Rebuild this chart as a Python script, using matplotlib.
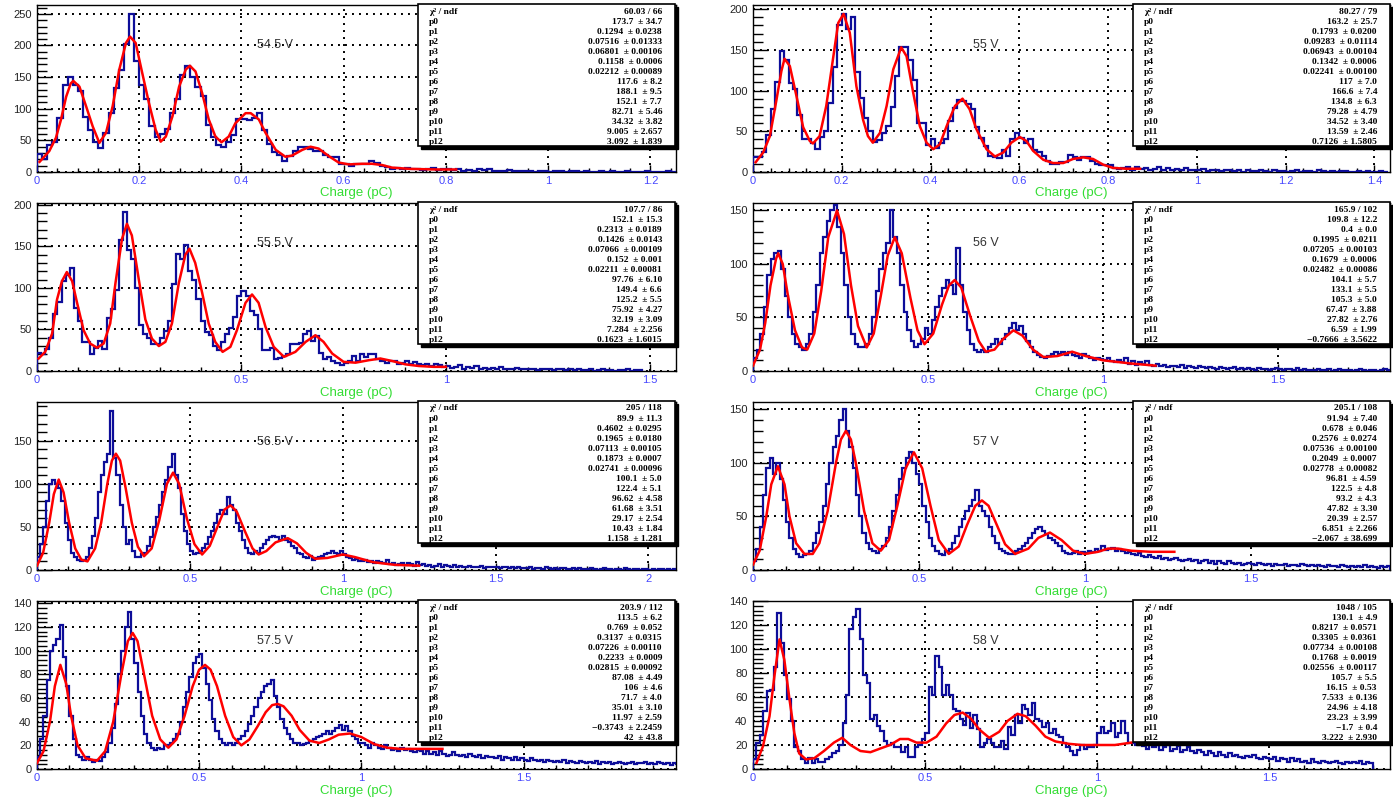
import numpy as np
import matplotlib.pyplot as plt
from matplotlib.ticker import MultipleLocator, AutoMinorLocator, FuncFormatter
from matplotlib.patches import Rectangle

W, H = 1393, 802
bin_w = 0.01

# ---------------- data ----------------
labels = ["54.5 V", "55 V", "55.5 V", "56 V", "56.5 V", "57 V", "57.5 V", "58 V"]

counts_545 = [28, 20, 42, 48, 85, 137, 150, 138, 128, 87, 67, 47, 38, 62, 93, 133, 162, 203, 250, 176,
              138, 115, 72, 55, 60, 68, 93, 115, 153, 167, 150, 135, 120, 75, 55, 43, 40, 47, 58, 84,
              84, 82, 85, 93, 67, 45, 32, 27, 18, 25, 33, 40, 40, 37, 33, 33, 27, 23, 23, 12,
              13, 10, 12, 12, 12, 18, 14, 10, 8, 5, 6, 5, 7, 4, 5, 3, 4, 6, 3, 4,
              5, 3, 4, 2, 3, 2, 4, 3, 5, 2, 1, 2, 3, 1, 1, 2, 1, 0, 1, 1,
              0, 2, 1, 0, 1, 1, 0, 1, 0, 0, 1, 0, 1, 0, 0, 1, 0, 0, 0, 1, 0, 0, 0, 1, 0]
fit_x_545 = [0.005, 0.024, 0.037, 0.047, 0.057, 0.066, 0.071, 0.083, 0.096, 0.109, 0.122, 0.135, 0.148,
             0.161, 0.174, 0.182, 0.193, 0.206, 0.219, 0.232, 0.242, 0.252, 0.265, 0.278, 0.291, 0.299,
             0.310, 0.323, 0.336, 0.349, 0.361, 0.375, 0.388, 0.408, 0.418, 0.434, 0.447, 0.467, 0.486,
             0.499, 0.519, 0.535, 0.551, 0.571, 0.590, 0.610, 0.636, 0.655, 0.675, 0.694, 0.727, 0.78, 0.82]
fit_y_545 = [16, 33, 54, 83, 119, 140, 144, 135, 104, 72, 46, 62, 104, 162, 204, 214, 204, 156, 109, 67,
             48, 56, 88, 135, 162, 168, 159, 125, 83, 56, 47, 56, 77, 93, 93, 83, 62, 35, 24, 26, 35,
             40, 37, 25, 15, 12, 13, 13, 11, 7, 5, 4, 4]

counts_55 = [18, 18, 25, 45, 77, 111, 149, 138, 109, 102, 70, 40, 40, 36, 28, 43, 50, 85, 129, 181,
             194, 176, 190, 123, 91, 66, 50, 37, 39, 48, 56, 80, 118, 154, 154, 137, 113, 60, 60, 33,
             41, 30, 35, 41, 62, 79, 88, 87, 83, 77, 55, 42, 32, 20, 18, 17, 27, 20, 40, 48,
             42, 35, 40, 27, 25, 20, 13, 10, 10, 12, 12, 21, 18, 15, 18, 18, 13, 10, 9, 8,
             8, 5, 4, 5, 6, 3, 6, 4, 5, 3, 4, 6, 3, 5, 2, 4, 3, 5, 2, 3,
             2, 4, 1, 3, 2, 1, 3, 2, 1, 2, 0, 2, 1, 1, 3, 1, 0, 2, 1, 1,
             0, 1, 2, 0, 1, 1, 0, 2, 1, 0, 1, 0, 1, 1, 0, 0, 1, 0, 1, 0, 0, 1, 0]
fit_x_55 = [0.006, 0.023, 0.038, 0.053, 0.064, 0.071, 0.083, 0.098, 0.113, 0.128, 0.135, 0.150, 0.165,
            0.180, 0.192, 0.204, 0.218, 0.233, 0.248, 0.259, 0.270, 0.286, 0.301, 0.316, 0.334, 0.346,
            0.361, 0.376, 0.391, 0.406, 0.421, 0.436, 0.455, 0.472, 0.488, 0.503, 0.526, 0.545, 0.564,
            0.582, 0.601, 0.616, 0.631, 0.654, 0.676, 0.699, 0.721, 0.744, 0.766, 0.789, 0.811, 0.841, 0.872]
fit_y_55 = [12, 24, 44, 89, 124, 139, 130, 93, 55, 38, 35, 44, 81, 138, 183, 194, 171, 105, 64, 44, 36,
            48, 81, 126, 153, 142, 97, 56, 36, 28, 34, 56, 81, 90, 77, 53, 28, 19, 24, 36, 43, 38, 26,
            15, 11, 11, 16, 18, 16, 9, 5, 4, 4]

counts_555 = [22, 20, 27, 40, 68, 83, 108, 115, 124, 76, 60, 35, 35, 20, 28, 36, 27, 64, 75, 97,
              158, 191, 145, 135, 100, 55, 45, 40, 32, 33, 40, 48, 60, 105, 141, 135, 151, 120, 110, 87,
              60, 47, 43, 30, 25, 35, 45, 52, 65, 90, 96, 90, 72, 67, 50, 25, 25, 28, 15, 16,
              18, 21, 32, 33, 34, 45, 48, 36, 42, 22, 15, 17, 12, 10, 7, 10, 12, 18, 12, 20,
              17, 20, 20, 15, 12, 10, 12, 12, 8, 10, 12, 9, 11, 8, 7, 9, 6, 8, 7, 5,
              6, 4, 5, 7, 3, 5, 4, 6, 3, 4, 2, 4, 3, 5, 2, 3, 2, 4, 3, 2,
              3, 2, 1, 3, 2, 2, 1, 2, 3, 1, 2, 1, 2, 1, 1, 2, 0, 1, 2, 1,
              1, 0, 1, 1, 2, 0, 1, 1]
fit_x_555 = [0.004, 0.020, 0.037, 0.049, 0.061, 0.073, 0.086, 0.098, 0.114, 0.130, 0.147, 0.163, 0.179,
             0.192, 0.208, 0.220, 0.232, 0.249, 0.265, 0.281, 0.298, 0.314, 0.330, 0.347, 0.363, 0.373,
             0.387, 0.404, 0.420, 0.436, 0.454, 0.473, 0.489, 0.510, 0.526, 0.542, 0.559, 0.579, 0.604,
             0.632, 0.657, 0.681, 0.701, 0.722, 0.750, 0.779, 0.812, 0.840, 0.869, 0.901, 0.934, 0.97, 1.0]
fit_y_555 = [15, 23, 45, 86, 108, 119, 108, 82, 49, 33, 28, 33, 57, 106, 159, 177, 163, 110, 62, 39, 30,
             35, 57, 106, 140, 147, 130, 94, 57, 35, 23, 29, 49, 82, 92, 82, 53, 29, 17, 23, 35, 43, 35,
             21, 11, 10, 13, 15, 12, 8, 6, 5, 5]

counts_56 = [12, 20, 35, 60, 90, 105, 110, 112, 95, 70, 50, 35, 25, 22, 20, 25, 35, 55, 80, 110,
             125, 140, 150, 155, 135, 110, 80, 50, 35, 25, 22, 22, 25, 35, 50, 75, 95, 110, 120, 150,
             125, 110, 80, 55, 38, 28, 22, 25, 30, 40, 35, 48, 60, 70, 78, 85, 80, 72, 115, 80,
             55, 38, 25, 20, 18, 20, 18, 22, 25, 30, 25, 30, 35, 40, 45, 38, 42, 35, 28, 22,
             18, 15, 13, 12, 14, 16, 18, 16, 18, 15, 18, 15, 14, 12, 16, 14, 12, 10, 12, 11,
             10, 12, 9, 8, 10, 8, 12, 7, 9, 6, 8, 7, 9, 6, 5, 7, 5, 6, 4, 5,
             5, 4, 6, 3, 5, 4, 3, 5, 4, 3, 4, 3, 2, 4, 3, 2, 3, 4, 2, 3,
             2, 3, 2, 1, 3, 2, 2, 1, 2, 3, 2, 1, 2, 2, 1, 3, 1, 2, 1, 1,
             1, 2, 1, 1, 2, 0, 1, 2, 1, 1, 1, 0, 1, 2, 1, 0, 1, 1, 0, 1, 2, 1]
fit_x_56 = [0.0, 0.02, 0.035, 0.05, 0.066, 0.072, 0.085, 0.1, 0.12, 0.14, 0.155, 0.175, 0.195, 0.215,
            0.24, 0.26, 0.28, 0.30, 0.325, 0.345, 0.365, 0.385, 0.405, 0.425, 0.45, 0.47, 0.49, 0.515,
            0.54, 0.56, 0.576, 0.595, 0.62, 0.645, 0.665, 0.69, 0.715, 0.744, 0.77, 0.8, 0.83, 0.87,
            0.912, 0.95, 1.0, 1.08, 1.15]
fit_y_56 = [5, 20, 45, 80, 105, 110, 100, 70, 38, 22, 20, 35, 75, 125, 150, 128, 80, 42, 22, 35, 70,
            108, 125, 110, 68, 38, 25, 35, 62, 80, 85, 78, 52, 28, 18, 20, 30, 38, 33, 20, 13, 14,
            18, 14, 10, 7, 5]

counts_565 = [15, 30, 50, 80, 100, 105, 100, 95, 80, 55, 35, 20, 15, 12, 10, 12, 15, 25, 40, 60,
              90, 110, 125, 135, 185, 130, 110, 75, 50, 30, 35, 22, 15, 15, 18, 20, 28, 38, 50, 62,
              75, 90, 105, 120, 135, 110, 95, 65, 45, 30, 22, 18, 20, 22, 25, 30, 38, 45, 55, 65,
              70, 65, 85, 75, 70, 55, 45, 35, 25, 20, 18, 22, 20, 25, 30, 35, 38, 40, 38, 35,
              40, 35, 32, 28, 25, 20, 18, 15, 14, 16, 12, 14, 15, 16, 18, 20, 22, 20, 18, 22,
              18, 15, 14, 12, 13, 11, 10, 12, 9, 10, 8, 10, 9, 8, 12, 7, 8, 6, 7, 8,
              6, 8, 7, 5, 9, 6, 7, 5, 6, 4, 5, 7, 4, 6, 5, 3, 6, 4, 5, 3,
              4, 5, 3, 4, 3, 5, 2, 4, 3, 3, 3, 2, 4, 3, 2, 3, 2, 3, 2, 2,
              2, 3, 1, 2, 2, 1, 3, 2, 1, 2, 1, 2, 2, 1, 1, 2, 1, 2, 1, 1,
              1, 2, 1, 0, 1, 2, 1, 1, 0, 1, 1, 0, 2, 1, 0, 1, 1, 0, 1, 1, 0, 1, 0, 1, 1, 0, 1, 0, 1]
fit_x_565 = [0.0, 0.02, 0.04, 0.055, 0.071, 0.087, 0.105, 0.125, 0.145, 0.165, 0.19, 0.21, 0.23, 0.245,
             0.258, 0.272, 0.29, 0.31, 0.33, 0.35, 0.375, 0.4, 0.425, 0.445, 0.465, 0.49, 0.515, 0.54,
             0.565, 0.59, 0.613, 0.633, 0.653, 0.68, 0.705, 0.725, 0.75, 0.78, 0.82, 0.85, 0.88, 0.91,
             0.95, 1.0, 1.04, 1.1, 1.17, 1.25]
fit_y_565 = [5, 20, 55, 88, 105, 90, 55, 25, 12, 10, 25, 55, 100, 127, 135, 127, 95, 55, 27, 16, 25,
             58, 100, 113, 100, 60, 30, 18, 28, 50, 70, 75, 68, 45, 25, 18, 22, 32, 37, 31, 20, 13,
             14, 18, 15, 9, 6, 5]

counts_57 = [8, 20, 40, 70, 95, 105, 90, 100, 85, 65, 45, 30, 20, 15, 12, 14, 15, 18, 25, 35,
             45, 60, 80, 100, 115, 125, 140, 150, 130, 115, 95, 70, 50, 35, 25, 20, 18, 16, 20, 22,
             30, 40, 55, 70, 85, 95, 105, 110, 100, 90, 80, 60, 45, 30, 22, 18, 15, 14, 18, 20,
             25, 32, 40, 48, 55, 60, 65, 75, 60, 55, 50, 40, 32, 25, 20, 18, 16, 15, 15, 18,
             20, 22, 25, 30, 35, 38, 40, 36, 34, 30, 28, 25, 22, 18, 16, 15, 16, 18, 15, 17,
             16, 18, 17, 20, 18, 22, 19, 20, 21, 18, 20, 18, 16, 17, 15, 14, 16, 13, 12, 14,
             12, 11, 13, 10, 11, 9, 10, 11, 9, 8, 9, 10, 8, 9, 7, 8, 9, 7, 8, 6,
             8, 7, 6, 8, 7, 6, 7, 5, 6, 7, 6, 5, 7, 6, 5, 6, 4, 6, 5, 5,
             6, 4, 5, 5, 4, 6, 5, 4, 5, 4, 5, 4, 3, 5, 4, 4, 3, 5, 4, 3,
             4, 3, 4, 3, 5, 3, 4, 3, 2, 4, 3, 4]
fit_x_57 = [0.0, 0.02, 0.04, 0.055, 0.075, 0.095, 0.11, 0.13, 0.155, 0.18, 0.2, 0.225, 0.25, 0.265,
            0.28, 0.295, 0.31, 0.335, 0.36, 0.385, 0.41, 0.435, 0.46, 0.485, 0.51, 0.535, 0.56, 0.59,
            0.62, 0.645, 0.67, 0.69, 0.71, 0.735, 0.76, 0.79, 0.83, 0.86, 0.895, 0.93, 0.965, 1.0,
            1.04, 1.07, 1.1, 1.14, 1.2, 1.27]
fit_y_57 = [5, 18, 50, 80, 97, 80, 50, 25, 15, 15, 25, 55, 100, 122, 130, 122, 100, 55, 25, 18, 28,
            60, 95, 110, 95, 60, 28, 15, 22, 42, 60, 65, 60, 42, 24, 15, 20, 30, 35, 28, 18, 15,
            17, 20, 20, 18, 17, 17]

counts_575 = [10, 25, 45, 75, 100, 105, 110, 122, 95, 70, 45, 25, 12, 10, 8, 10, 8, 6, 8, 7,
              10, 14, 22, 35, 55, 80, 100, 120, 133, 110, 90, 65, 45, 30, 22, 18, 16, 18, 17, 20,
              20, 22, 25, 30, 40, 52, 65, 78, 90, 95, 97, 85, 72, 58, 42, 32, 25, 22, 20, 22,
              20, 22, 25, 28, 32, 38, 45, 52, 60, 65, 70, 72, 75, 62, 52, 42, 35, 30, 25, 22,
              22, 20, 21, 22, 24, 25, 27, 28, 30, 32, 30, 32, 35, 37, 33, 36, 32, 28, 25, 22,
              22, 20, 18, 22, 20, 18, 17, 20, 18, 16, 17, 15, 18, 16, 17, 15, 14, 16, 15, 13,
              15, 13, 14, 12, 15, 13, 11, 12, 14, 12, 11, 12, 10, 13, 11, 10, 12, 9, 11, 10,
              10, 9, 11, 8, 10, 9, 8, 10, 8, 9, 8, 7, 9, 8, 7, 8, 6, 8, 7, 6,
              7, 6, 8, 5, 7, 6, 5, 7, 6, 5, 6, 5, 7, 4, 6, 5, 6, 4, 5, 6,
              5, 4, 5, 6, 4, 5, 5, 6, 4, 5, 4, 6, 5, 4, 5, 3, 5, 4]
fit_x_575 = [0.0, 0.02, 0.04, 0.055, 0.072, 0.09, 0.105, 0.125, 0.15, 0.185, 0.21, 0.235, 0.26, 0.28,
             0.295, 0.31, 0.33, 0.355, 0.38, 0.405, 0.43, 0.455, 0.48, 0.5, 0.518, 0.535, 0.555, 0.58,
             0.605, 0.63, 0.655, 0.68, 0.705, 0.725, 0.742, 0.76, 0.785, 0.81, 0.84, 0.87, 0.9, 0.93,
             0.965, 1.0, 1.04, 1.08, 1.12, 1.18, 1.25]
fit_y_575 = [5, 15, 40, 70, 88, 72, 45, 20, 9, 7, 15, 40, 80, 108, 115, 108, 80, 45, 25, 18, 25, 45,
             70, 84, 88, 84, 70, 45, 27, 20, 25, 36, 48, 54, 55, 53, 45, 33, 24, 22, 25, 29, 30, 27,
             21, 18, 17, 17, 17]

counts_58 = [8, 22, 28, 48, 65, 66, 85, 130, 105, 78, 58, 40, 18, 15, 8, 5, 9, 5, 8, 6,
             6, 8, 10, 13, 15, 20, 38, 62, 117, 127, 133, 108, 78, 72, 42, 45, 36, 32, 23, 20,
             22, 18, 18, 14, 18, 10, 10, 18, 20, 25, 30, 68, 62, 94, 85, 62, 70, 62, 50, 48,
             42, 37, 47, 34, 45, 33, 18, 22, 25, 22, 18, 18, 23, 17, 35, 28, 45, 38, 53, 50,
             45, 55, 42, 40, 35, 38, 30, 33, 28, 27, 22, 18, 15, 12, 16, 20, 17, 18, 18, 20,
             30, 35, 30, 32, 38, 27, 30, 40, 30, 22, 22, 20, 24, 19, 17, 21, 18, 20, 16, 18,
             20, 15, 17, 19, 14, 16, 18, 15, 13, 16, 14, 12, 15, 13, 11, 14, 12, 10, 13, 11,
             12, 10, 9, 11, 10, 12, 9, 8, 10, 9, 8, 10, 7, 9, 8, 6, 9, 7, 8, 6,
             7, 5, 8, 6, 5, 7, 6, 5, 6, 7, 5, 4, 6, 5, 6, 5, 7, 4, 6, 5]
fit_x_58 = [0.01, 0.029, 0.048, 0.062, 0.077, 0.091, 0.106, 0.120, 0.134, 0.154, 0.178, 0.206, 0.235,
            0.259, 0.283, 0.312, 0.341, 0.369, 0.398, 0.427, 0.451, 0.475, 0.504, 0.533, 0.561, 0.585,
            0.609, 0.633, 0.657, 0.686, 0.715, 0.739, 0.768, 0.792, 0.821, 0.849, 0.878, 0.917, 0.955,
            1.003, 1.051, 1.099]
fit_y_58 = [5, 19, 44, 77, 108, 91, 58, 30, 13, 8, 9, 15, 22, 26, 20, 15, 14, 17, 20, 25, 25, 22, 22,
            27, 38, 45, 47, 42, 33, 26, 31, 40, 46, 44, 36, 27, 23, 21, 20, 20, 20, 22]

chi2 = ["60.03 / 66", "80.27 / 79", "107.7 / 86", "165.9 / 102",
        "205 / 118", "205.1 / 108", "203.9 / 112", "1048 / 105"]
pars_545 = ["173.7  ± 34.7", "0.1294  ± 0.0238", "0.07516  ± 0.01333", "0.06801  ± 0.00106",
            "0.1158  ± 0.0006", "0.02212  ± 0.00089", "117.6  ± 8.2", "188.1  ± 9.5", "152.1  ± 7.7",
            "82.71  ± 5.46", "34.32  ± 3.82", "9.005  ± 2.657", "3.092  ± 1.839"]
pars_55 = ["163.2  ± 25.7", "0.1793  ± 0.0200", "0.09283  ± 0.01114", "0.06943  ± 0.00104",
           "0.1342  ± 0.0006", "0.02241  ± 0.00100", "117  ± 7.0", "166.6  ± 7.4", "134.8  ± 6.3",
           "79.28  ± 4.79", "34.52  ± 3.40", "13.59  ± 2.46", "0.7126  ± 1.5805"]
pars_555 = ["152.1  ± 15.3", "0.2313  ± 0.0189", "0.1426  ± 0.0143", "0.07066  ± 0.00109",
            "0.152  ± 0.001", "0.02211  ± 0.00081", "97.76  ± 6.10", "149.4  ± 6.6", "125.2  ± 5.5",
            "75.92  ± 4.27", "32.19  ± 3.09", "7.284  ± 2.256", "0.1623  ± 1.6015"]
pars_56 = ["109.8  ± 12.2", "0.4  ± 0.0", "0.1995  ± 0.0211", "0.07205  ± 0.00103",
           "0.1679  ± 0.0006", "0.02482  ± 0.00086", "104.1  ± 5.7", "133.1  ± 5.5", "105.3  ± 5.0",
           "67.47  ± 3.88", "27.82  ± 2.76", "6.59  ± 1.99", "\u22120.7666  ± 3.5622"]
pars_565 = ["89.9  ± 11.3", "0.4602  ± 0.0295", "0.1965  ± 0.0180", "0.07113  ± 0.00105",
            "0.1873  ± 0.0007", "0.02741  ± 0.00096", "100.1  ± 5.0", "122.4  ± 5.1", "96.62  ± 4.58",
            "61.68  ± 3.51", "29.17  ± 2.54", "10.43  ± 1.84", "1.158  ± 1.281"]
pars_57 = ["91.94  ± 7.40", "0.678  ± 0.046", "0.2576  ± 0.0274", "0.07536  ± 0.00100",
           "0.2049  ± 0.0007", "0.02778  ± 0.00082", "96.81  ± 4.59", "122.5  ± 4.8", "93.2  ± 4.3",
           "47.82  ± 3.30", "20.39  ± 2.57", "6.851  ± 2.266", "\u22122.067  ± 38.699"]
pars_575 = ["113.5  ± 6.2", "0.769  ± 0.052", "0.3137  ± 0.0315", "0.07226  ± 0.00110",
            "0.2233  ± 0.0009", "0.02815  ± 0.00092", "87.08  ± 4.49", "106  ± 4.6", "71.7  ± 4.0",
            "35.01  ± 3.10", "11.97  ± 2.59", "\u22120.3743  ± 2.2459", "42  ± 43.8"]
pars_58 = ["130.1  ± 4.9", "0.8217  ± 0.0571", "0.3305  ± 0.0361", "0.07734  ± 0.00108",
           "0.1768  ± 0.0019", "0.02556  ± 0.00117", "105.7  ± 5.5", "16.15  ± 0.53", "7.533  ± 0.136",
           "24.96  ± 4.18", "23.23  ± 3.99", "\u22121.7  ± 0.4", "3.222  ± 2.930"]

xmax = [1.25, 1.435, 1.563, 1.82, 2.09, 1.92, 1.97, 1.85]
ymax = [264, 205, 202, 157, 195, 157, 142, 140]
xstep = [0.2, 0.2, 0.5, 0.5, 0.5, 0.5, 0.5, 0.5]
ystep = [50, 50, 50, 50, 50, 50, 20, 20]

panels = [(counts_545, fit_x_545, fit_y_545, pars_545),
          (counts_55, fit_x_55, fit_y_55, pars_55),
          (counts_555, fit_x_555, fit_y_555, pars_555),
          (counts_56, fit_x_56, fit_y_56, pars_56),
          (counts_565, fit_x_565, fit_y_565, pars_565),
          (counts_57, fit_x_57, fit_y_57, pars_57),
          (counts_575, fit_x_575, fit_y_575, pars_575),
          (counts_58, fit_x_58, fit_y_58, pars_58)]

# ---------------- layout (pixels) ----------------
col_l = [37, 753]
col_r = [676, 1390]
row_t = [5, 203, 402, 601]
row_b = [172, 371, 570, 769]

fig = plt.figure(figsize=(W / 100, H / 100), dpi=100)
fmt = FuncFormatter(lambda v, p: "%g" % round(v, 3))

for i, (cnt, fx, fy, pars) in enumerate(panels):
    r, c = i // 2, i % 2
    l, rr, t, b = col_l[c], col_r[c], row_t[r], row_b[r]
    ax = fig.add_axes([l / W, 1 - b / H, (rr - l) / W, (b - t) / H])
    edges = np.arange(len(cnt) + 1) * bin_w
    ax.stairs(cnt, edges, color="#0d0d99", lw=1.6, zorder=3)
    ax.plot(fx, fy, color="#ff0000", lw=1.8, zorder=4, solid_joinstyle="round")
    ax.set_xlim(0, xmax[i])
    ax.set_ylim(0, ymax[i])

    ax.xaxis.set_major_locator(MultipleLocator(xstep[i]))
    ax.yaxis.set_major_locator(MultipleLocator(ystep[i]))
    ax.xaxis.set_minor_locator(AutoMinorLocator(5))
    ax.yaxis.set_minor_locator(AutoMinorLocator(5))
    ax.xaxis.set_major_formatter(fmt)
    ax.yaxis.set_major_formatter(fmt)
    ax.tick_params(which="both", direction="in", top=False, right=False, width=1)
    ax.tick_params(axis="y", which="major", length=11, labelsize=8, pad=4, labelcolor="#222222")
    ax.tick_params(axis="y", which="minor", length=7)
    ax.tick_params(axis="x", which="major", length=5, labelsize=8, pad=3, labelcolor="#4646ff")
    ax.tick_params(axis="x", which="minor", length=3)
    for lab in ax.get_xticklabels() + ax.get_yticklabels():
        lab.set_family("Liberation Sans")
    ax.grid(True, which="major", color="black", linestyle=(0, (1, 2.6)), linewidth=1.4)
    ax.set_axisbelow(True)
    for s in ax.spines.values():
        s.set_linewidth(1.0)

    ax.text(0.345, 0.745, labels[i], transform=ax.transAxes, fontsize=9,
            family="Liberation Sans", color="#333333", zorder=2)
    ax.text(0.5, -0.128, "Charge (pC)", transform=ax.transAxes, fontsize=9.5,
            family="Liberation Sans", color="#33dd33", ha="center", va="center")

    # statistics box
    bx0 = (418 if c == 0 else 1133)
    bx1 = bx0 + 257
    by0, by1 = t - 1, t + 141

    def fx_(px):
        return (px - l) / (rr - l)

    def fy_(py):
        return (b - py) / (b - t)
    ax.add_patch(Rectangle((fx_(bx0 + 3), fy_(by1 + 3)), fx_(bx1 + 3) - fx_(bx0 + 3),
                           fy_(by0 + 3) - fy_(by1 + 3), transform=ax.transAxes,
                           facecolor="black", edgecolor="black", clip_on=False, zorder=8))
    ax.add_patch(Rectangle((fx_(bx0), fy_(by1)), fx_(bx1) - fx_(bx0), fy_(by0) - fy_(by1),
                           transform=ax.transAxes, facecolor="white", edgecolor="black",
                           lw=1.2, clip_on=False, zorder=9))
    names = ["\u03c7\u00b2 / ndf"] + ["p%d" % k for k in range(13)]
    vals = [chi2[i]] + pars
    for k, (nm, vv) in enumerate(zip(names, vals)):
        yy = fy_(t + 6.5 + k * 10.05)
        ax.text(fx_(bx0 + 11), yy, nm, transform=ax.transAxes, fontsize=6.8,
                family="Liberation Serif", weight="bold", va="center", ha="left", zorder=10)
        ax.text(fx_(bx1 - 13), yy, vv, transform=ax.transAxes, fontsize=6.8,
                family="Liberation Serif", weight="bold", va="center", ha="right", zorder=10)

fig.savefig("out.png", dpi=100)
